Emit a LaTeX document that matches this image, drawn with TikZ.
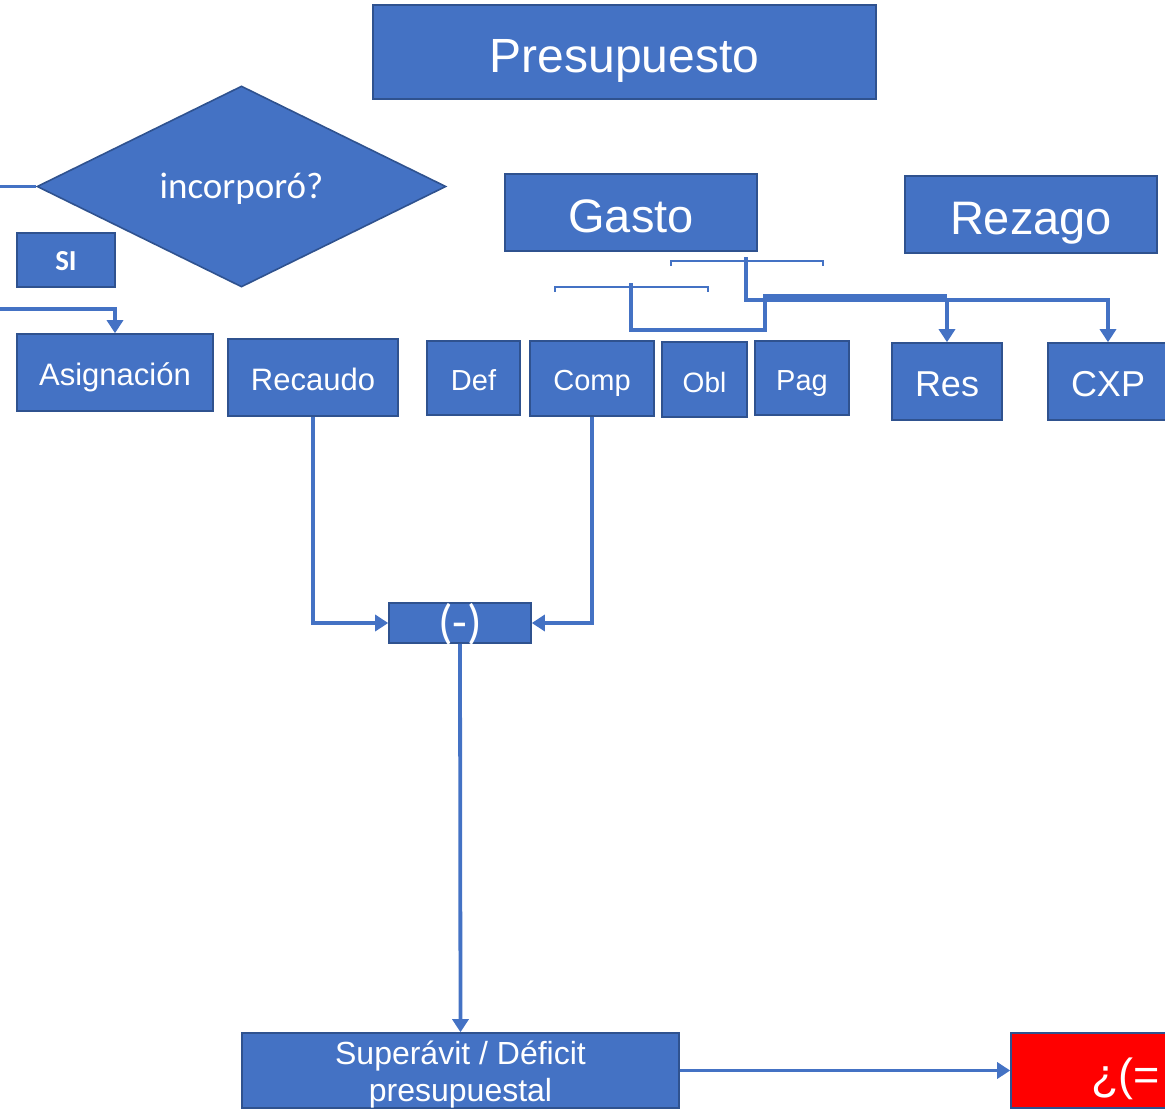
\documentclass[tikz,border=0pt]{standalone}
\usepackage{fontspec}
\setmainfont{Liberation Sans}
\newfontfamily\calib{Carlito}
\usetikzlibrary{shapes.geometric,arrows.meta}
\definecolor{obl}{HTML}{4472C4}
\definecolor{obd}{HTML}{2F528F}
\definecolor{ored}{HTML}{FF0000}
\tikzset{
  box/.style={draw=obd, fill=obl, line width=1.6pt, text=white, inner sep=0pt, align=center},
  th/.style={text height=#1, text depth=0pt},
  conn/.style={draw=obl, line width=3.8pt},
  arr/.style={-{Triangle[width=16pt,length=13pt]}},
  thin/.style={draw=obl, line width=1.5pt},
}
\newcommand{\fs}[2]{\fontsize{#1}{#2}\selectfont}
\begin{document}
\begin{tikzpicture}[x=1pt,y=-1pt]
\useasboundingbox (0,0) rectangle (1165,1109);
% boxes
\node[box, th=40pt, minimum width=503pt, minimum height=94pt] (pres) at (624.5,52) {\fs{48}{54}Presupuesto};
\node[box, diamond, th=24pt, minimum width=409pt, minimum height=201pt] (dia) at (241.5,186.5) {\calib\fs{37}{42}incorporó?};
\node[box, th=20pt, minimum width=98pt, minimum height=54pt] (si) at (66,260) {\calib\bfseries\fs{29}{32}SI};
\node[box, th=25pt, minimum width=196pt, minimum height=77pt] (asig) at (115,372.5) {\fs{31}{36}Asignación};
\node[box, th=25pt, minimum width=170pt, minimum height=77pt] (rec) at (313,377.5) {\fs{31}{36}Recaudo};
\node[box, th=24pt, minimum width=93pt, minimum height=74pt] (def) at (473.5,378) {\fs{29}{34}Def};
\node[box, th=23pt, minimum width=124pt, minimum height=75pt] (comp) at (592,378.5) {\fs{29}{34}Comp};
\node[box, th=25pt, minimum width=85pt, minimum height=75pt] (obl) at (704.5,379.5) {\fs{28}{34}Obl};
\node[box, th=24pt, minimum width=94pt, minimum height=74pt] (pag) at (802,378) {\fs{29}{34}Pag};
\node[box, th=30pt, minimum width=110pt, minimum height=77pt] (res) at (947,381.5) {\fs{36}{42}Res};
\node[box, th=30pt, minimum width=120pt, minimum height=77pt] (cxp) at (1108,381.5) {\fs{36}{42}CXP};
\node[box, th=40pt, minimum width=252pt, minimum height=77pt] (gasto) at (631,212.5) {\fs{47}{54}Gasto};
\node[box, th=39pt, minimum width=252pt, minimum height=77pt] (rez) at (1031,214.5) {\fs{47}{54}Rezago};
\node[box, th=30pt, minimum width=142pt, minimum height=40pt] (minus) at (460,623) {\calib\fs{48}{54}(-)};
\node[box, font=\fs{32}{37}, text height=66pt, text depth=4pt, minimum width=437pt, minimum height=75pt] (sup) at (460.5,1070.5) {Superávit / Déficit\\[0pt]presupuestal};
\node[box, fill=ored, minimum width=260pt, minimum height=75pt] (red) at (1141,1070.5) {};
\node[text=white, inner sep=0pt, anchor=base west] (redtxt) at (1091,1090) {\fs{45}{50}¿(=};
% free ends
\coordinate (L1) at (0,186.5);
\coordinate (L2) at (0,309);
\coordinate (s1) at (746,257);
\coordinate (j1) at (1108,300);
\coordinate (s2) at (631,283);
\coordinate (b1) at (765,330);
\coordinate (b2) at (947,296);
% brackets
\draw[thin] (671,266) -- (671,261) -- (823,261) -- (823,266);
\draw[thin] (555,292) -- (555,287) -- (708,287) -- (708,292);
% connectors
\draw[conn] (L1) -- (dia.west);
\draw[conn,arr] (L2) -| (asig.north);
\draw[conn,arr] (s1) |- (j1) -- (cxp.north);
\draw[conn,arr] (res.north |- j1) -- (res.north);
\draw[conn] (s2) |- (b1) |- (b2);
\draw[conn,arr] (rec.south) |- (minus.west);
\draw[conn,arr] (comp.south) |- (minus.east);
\draw[conn,arr] (minus.south) -- (sup.north);
\draw[conn,arr] (sup.east) -- (red.west);
\end{tikzpicture}
\end{document}
